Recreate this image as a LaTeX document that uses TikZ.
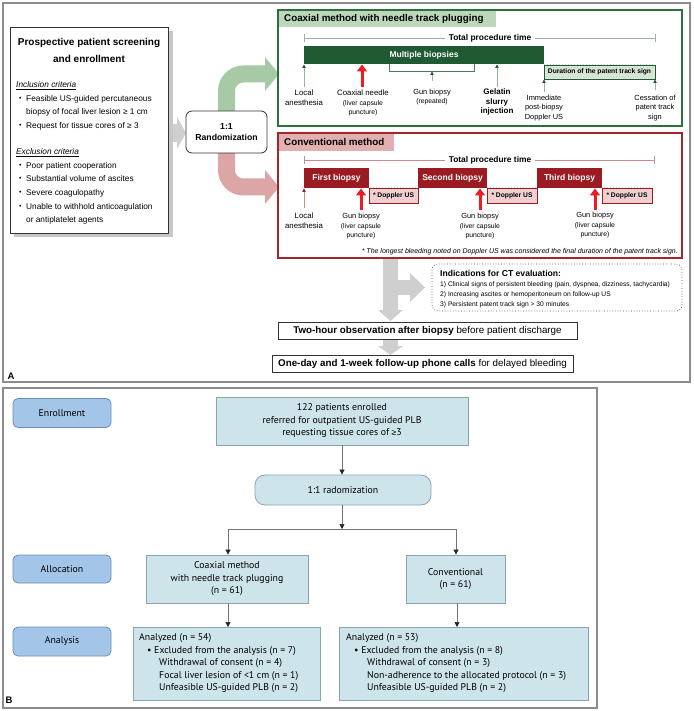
\documentclass[tikz,border=0pt]{standalone}
\usepackage{fontspec}
\setmainfont{Liberation Sans}
\newfontfamily\bfnt{PT Sans}
\usetikzlibrary{arrows.meta,patterns}
\newcommand\myfs[2]{\fontsize{#1}{#2}\selectfont}
\definecolor{framec}{HTML}{8C8C8C}
\definecolor{gframec}{HTML}{2F6E3E}
\definecolor{gbarc}{HTML}{1F5A33}
\definecolor{gtabc}{HTML}{BCD7BA}
\definecolor{garrc}{HTML}{A8C9A6}
\definecolor{glinec}{HTML}{9AB39C}
\definecolor{gdurc}{HTML}{DDE9D8}
\definecolor{rframec}{HTML}{A3262C}
\definecolor{rbarc}{HTML}{9A1C22}
\definecolor{rtabc}{HTML}{E2B0B0}
\definecolor{rarrc}{HTML}{DCA6A6}
\definecolor{rlinec}{HTML}{C98B8B}
\definecolor{rdopc}{HTML}{F2D4D4}
\definecolor{redc}{HTML}{EE1B24}
\definecolor{grayc}{HTML}{CFCFCF}
\definecolor{bboxc}{HTML}{CDE4EA}
\definecolor{bbordc}{HTML}{8AA3AD}
\definecolor{blabc}{HTML}{A3C5E8}
\definecolor{blabdc}{HTML}{6C8DB3}
\tikzset{
  frame/.style={draw=framec, line width=1.3},
  tabtitle/.style={anchor=west, inner sep=0, font=\bfseries\myfs{9.8}{11}},
  totaltxt/.style={fill=white, inner ysep=1, inner xsep=4, font=\bfseries\myfs{8.4}{9}},
  bartxt/.style={text=white, inner sep=0, font=\bfseries\myfs{8.5}{9}},
  doptxt/.style={inner sep=0, font=\bfseries\myfs{6.7}{8}},
  lbl/.style={inner sep=0, anchor=north, align=center, font=\myfs{7.8}{9.3}},
  lbody/.style={inner sep=0, anchor=west, font=\myfs{8.3}{9}},
  bul/.style={inner sep=0, anchor=west, font=\myfs{7}{8}},
  smallg/.style={draw=glinec, line width=0.8, -{Triangle[length=3.5pt,width=3.5pt,color=gbarc]}},
  smallr/.style={draw=rlinec, line width=0.8, -{Triangle[length=3.5pt,width=3.5pt,color=rbarc]}},
  redarr/.style={draw=redc, line width=3, -{Triangle[length=7pt,width=10pt]}},
  gdur/.style={draw=gbarc, line width=0.5, preaction={fill=gdurc}, pattern=crosshatch dots, pattern color=gbarc!30},
  rdop/.style={draw=rbarc, line width=0.5, preaction={fill=rdopc}, pattern=crosshatch dots, pattern color=rbarc!30},
  bt/.style={font=\bfnt\myfs{9.8}{12.5}, inner sep=0},
  bbox/.style={draw=bbordc, fill=bboxc, line width=0.8},
  blab/.style={draw=blabdc, fill=blabc, line width=0.8, rounded corners=5, font=\bfnt\myfs{9.8}{11}},
  barr/.style={draw=black!55, line width=0.7, -{Triangle[length=5pt,width=5pt,color=black!85]}},
}
\begin{document}
\begin{tikzpicture}[x=1pt,y=-1pt]
\useasboundingbox (0,0) rectangle (693,711);
\fill[white] (0,0) rectangle (693,711);

% ---------------- Panel A ----------------
\draw[frame] (3,3) rectangle (690,382);
\node[font=\bfseries\myfs{9.5}{10}, inner sep=0] (labA) at (11,376) {A};

% left box
\fill[black!22] (14,31) rectangle (173,237);
\draw[black!80, fill=white, line width=0.8] (10,27) rectangle (168,233);
\node[font=\bfseries\myfs{10}{11}, inner sep=0] (lt1) at (89,43) {Prospective patient screening};
\node[font=\bfseries\myfs{10}{11}, inner sep=0] (lt2) at (89,59) {and enrollment};
\node[lbody] (inc) at (16,86) {\underline{\textit{Inclusion criteria}}};
\node[bul] (bu1) at (19,99) {•};
\node[lbody] (i1) at (26,99) {Feasible US-guided percutaneous};
\node[lbody] (i1b) at (26,112) {biopsy of focal liver lesion ≥ 1 cm};
\node[bul] (bu2) at (19,126) {•};
\node[lbody] (i2) at (26,126) {Request for tissue cores of ≥ 3};
\node[lbody] (exc) at (16,153) {\underline{\textit{Exclusion criteria}}};
\node[bul] (bu3) at (19,166) {•};
\node[lbody] (e1) at (26,166) {Poor patient cooperation};
\node[bul] (bu4) at (19,179) {•};
\node[lbody] (e2) at (26,179) {Substantial volume of ascites};
\node[bul] (bu5) at (19,193) {•};
\node[lbody] (e3) at (26,193) {Severe coagulopathy};
\node[bul] (bu6) at (19,207) {•};
\node[lbody] (e4) at (26,207) {Unable to withhold anticoagulation};
\node[lbody] (e4b) at (26,220) {or antiplatelet agents};

% gray arrow into randomization
\fill[grayc] (173,124) rectangle (177.5,142);
\fill[grayc] (177,117) -- (186,133) -- (177,149) -- cycle;

% green & red curved arrows
\draw[garrc, line width=17, rounded corners=17] (226.5,125) |- (266,74);
\fill[garrc] (265,57) -- (279,74) -- (265,91) -- cycle;
\draw[rarrc, line width=17, rounded corners=17] (226.5,140) |- (266,187);
\fill[rarrc] (265,170) -- (279,187) -- (265,204) -- cycle;

\node[draw=black!80, line width=0.8, rounded corners=6, fill=white, minimum width=81, minimum height=42, align=center, font=\bfseries\myfs{8.7}{11.5}, inner sep=0] (rand) at (226.5,132) {1:1\\Randomization};

% coaxial box
\draw[gframec, line width=1.2] (278,10) rectangle (682,126);
\fill[gtabc] (278.6,10.6) rectangle (496,27);
\node[tabtitle] (cxt) at (284,19) {Coaxial method with needle track plugging};
\draw[glinec, line width=0.7] (304,38) -- (655,38);
\draw[glinec, line width=0.7] (304,34) -- (304,42) (655,34) -- (655,42);
\node[totaltxt] (tpt1) at (490,38) {Total procedure time};
\fill[gbarc] (304,46) rectangle (544,64);
\node[bartxt] (mb) at (424,55) {Multiple biopsies};
\draw[gbarc!80, line width=0.6] (389,64) -- (389,71) -- (474,71) -- (474,64);
\draw[smallg] (432,81) -- (432,71.5);
\draw[gdur] (544,65) rectangle (655,79);
\node[doptxt] (dur) at (599.5,72) {Duration of the patent track sign};
\draw[smallg] (304,87) -- (304,64.5);
\draw[smallg] (497,87) -- (497,64.5);
\draw[smallg] (544,92) -- (544,79.5);
\draw[smallg] (655,90) -- (655,79.5);
\draw[redarr] (362,87) -- (362,64.5);
\node[lbl] (cla) at (304,90) {Local\\anesthesia};
\node[lbl] (ccn) at (363,90) {Coaxial needle\\{\myfs{6.8}{9}(liver capsule}\\{\myfs{6.8}{9}puncture)}};
\node[lbl, font=\myfs{7.4}{9.5}] (cgb) at (432,88.5) {Gun biopsy\\{\myfs{6.8}{9}(repeated)}};
\node[lbl, font=\bfseries\myfs{8}{9.5}] (cgel) at (497,89) {Gelatin\\slurry\\injection};
\node[lbl, font=\myfs{7.4}{9.5}] (cimm) at (544,94.5) {Immediate\\post-biopsy\\Doppler US};
\node[lbl, font=\myfs{7.4}{9.5}] (cces) at (655,94.5) {Cessation of\\patent track\\sign};

% conventional box
\draw[rframec, line width=1.2] (278,133) rectangle (682,258);
\fill[rtabc] (278.6,133.6) rectangle (394,151);
\node[tabtitle] (cvt) at (284,142) {Conventional method};
\draw[rlinec, line width=0.7] (304,160) -- (654,160);
\draw[rlinec, line width=0.7] (304,156) -- (304,164) (654,156) -- (654,164);
\node[totaltxt] (tpt2) at (490,160) {Total procedure time};
\fill[rbarc] (304,168) rectangle (369,188);
\node[bartxt] (fb) at (336.5,178) {First biopsy};
\fill[rbarc] (418,168) rectangle (487,188);
\node[bartxt] (sb) at (452.5,178) {Second biopsy};
\fill[rbarc] (537,168) rectangle (602,188);
\node[bartxt] (tb) at (569.5,178) {Third biopsy};
\draw[rdop] (369,188) rectangle (418,203);
\node[doptxt] (d1) at (393.5,195.5) {* Doppler US};
\draw[rdop] (487,188) rectangle (537,203);
\node[doptxt] (d2) at (512,195.5) {* Doppler US};
\draw[rdop] (602,188) rectangle (652,203);
\node[doptxt] (d3) at (627,195.5) {* Doppler US};
\draw[smallr] (304,208) -- (304,188.5);
\draw[redarr] (361,210) -- (361,188.5);
\draw[redarr] (480,210) -- (480,188.5);
\draw[redarr] (595,210) -- (595,188.5);
\node[lbl] (vla) at (304,213) {Local\\anesthesia};
\node[lbl, font=\myfs{7.4}{9.5}] (vg1) at (361,213) {Gun biopsy\\{\myfs{6.8}{9}(liver capsule}\\{\myfs{6.8}{9}puncture)}};
\node[lbl, font=\myfs{7.4}{9.5}] (vg2) at (480,213) {Gun biopsy\\{\myfs{6.8}{9}(liver capsule}\\{\myfs{6.8}{9}puncture)}};
\node[lbl, font=\myfs{7.4}{9.5}] (vg3) at (595,212) {Gun biopsy\\{\myfs{6.8}{9}(liver capsule}\\{\myfs{6.8}{9}puncture)}};
\node[anchor=east, inner sep=0, font=\itshape\myfs{7}{8}] (fn) at (678,252) {* The longest bleeding noted on Doppler US was considered the final duration of the patent track sign.};

% gray arrows down
\fill[grayc] (383,259) rectangle (398,311);
\fill[grayc] (378,310) -- (390.5,321) -- (403,310) -- cycle;
\fill[grayc] (397,280) rectangle (411,295);
\fill[grayc] (410,273) -- (425,287.5) -- (410,302) -- cycle;

% indications
\draw[black!70, dotted, line width=0.7, rounded corners=6] (432,264) rectangle (682,311);
\node[anchor=west, inner sep=0, font=\bfseries\myfs{8.6}{9}] (ind) at (440,273.5) {Indications for CT evaluation:};
\node[anchor=west, inner sep=0, font=\myfs{6.7}{7}] (ind1) at (440,285) {1) Clinical signs of persistent bleeding (pain, dyspnea, dizziness, tachycardia)};
\node[anchor=west, inner sep=0, font=\myfs{6.7}{7}] (ind2) at (440,295) {2) Increasing ascites or hemoperitoneum on follow-up US};
\node[anchor=west, inner sep=0, font=\myfs{6.7}{7}] (ind3) at (440,304.5) {3) Persistent patent track sign > 30 minutes};

% two-hour and one-day
\node[draw=black!80, line width=0.8, minimum width=299, minimum height=17, inner sep=0, font=\myfs{9.8}{10}] (two) at (427.5,330.5) {\textbf{Two-hour observation after biopsy} before patient discharge};
\fill[grayc] (383,340) rectangle (398,347);
\fill[grayc] (378,346) -- (390.5,355) -- (403,346) -- cycle;
\node[draw=black!80, line width=0.8, minimum width=301, minimum height=17, inner sep=0, font=\myfs{9.8}{10}] (one) at (422.5,363.5) {\textbf{One-day and 1-week follow-up phone calls} for delayed bleeding};

% ---------------- Panel B ----------------
\draw[frame] (3,388) rectangle (597,708);
\node[font=\bfseries\myfs{9.5}{10}, inner sep=0] (labB) at (9,700) {B};

\node[blab, minimum width=98, minimum height=29] (enr) at (62,413) {Enrollment};
\node[blab, minimum width=98, minimum height=28] (alloc) at (62,569) {Allocation};
\node[blab, minimum width=98, minimum height=29] (anal) at (62,641.5) {Analysis};

\node[bbox, bt, align=center, minimum width=252, minimum height=48] (enrb) at (342,421) {122 patients enrolled\\referred for outpatient US-guided PLB\\requesting tissue cores of {\rmfamily\myfs{8.5}{12.5}≥}3};
\node[bbox, bt, rounded corners=10, minimum width=176, minimum height=30] (radb) at (343,490) {1:1 radomization};
\node[bbox, bt, align=center, minimum width=162, minimum height=48] (coaxb) at (227,579) {Coaxial method\\with needle track plugging\\(n = 61)};
\node[bbox, bt, align=center, minimum width=99, minimum height=48] (convb) at (455.5,579) {Conventional\\(n = 61)};
\draw[bbox] (133,627) rectangle (320,700);
\draw[bbox] (339,627) rectangle (588,700);
\coordinate (anl) at (228,627);
\coordinate (anr) at (457,627);
\node[bt, anchor=west] (l1) at (139,638) {Analyzed (n = 54)};
\node[bt, anchor=west] (l2) at (147,651) {• Excluded from the analysis (n = 7)};
\node[bt, anchor=west] (l3) at (159,663.5) {Withdrawal of consent (n = 4)};
\node[bt, anchor=west] (l4) at (159,676) {Focal liver lesion of <1 cm (n = 1)};
\node[bt, anchor=west] (l5) at (159,688.5) {Unfeasible US-guided PLB (n = 2)};
\node[bt, anchor=west] (r1) at (346,638) {Analyzed (n = 53)};
\node[bt, anchor=west] (r2) at (354,651) {• Excluded from the analysis (n = 8)};
\node[bt, anchor=west] (r3) at (367,663.5) {Withdrawal of consent (n = 3)};
\node[bt, anchor=west] (r4) at (367,676) {Non-adherence to the allocated protocol (n = 3)};
\node[bt, anchor=west] (r5) at (367,688.5) {Unfeasible US-guided PLB (n = 2)};

\coordinate (split) at (342,529);
\coordinate (splitl) at (228,529);
\coordinate (splitr) at (456,529);
\draw[barr] (enrb.south -| split) -- (radb.north -| split);
\draw[barr] (radb.south -| split) -- (split);
\draw[black!55, line width=0.7] (splitl) -- (splitr);
\draw[barr] (splitl) -- (coaxb.north -| splitl);
\draw[barr] (splitr) -- (convb.north -| splitr);
\draw[barr] (coaxb.south -| anl) -- (anl);
\draw[barr] (convb.south -| anr) -- (anr);
\end{tikzpicture}
\end{document}
